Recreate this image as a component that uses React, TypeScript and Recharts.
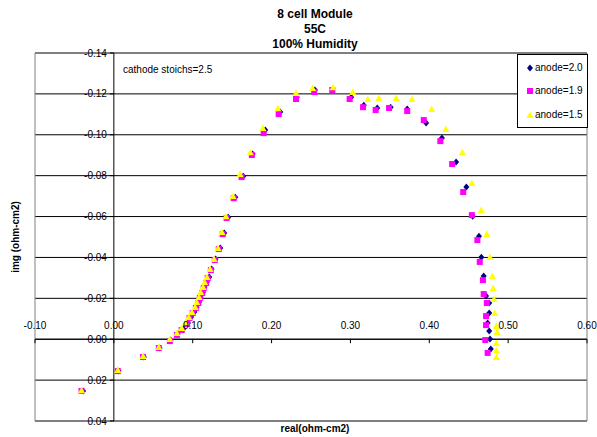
import React from "react";
import { ScatterChart, Scatter, XAxis, YAxis, CartesianGrid, ReferenceLine, ReferenceArea } from "recharts";

// anode stoich 2.0
const A20_REAL = [-0.039, 0.006, 0.038, 0.058, 0.072, 0.081, 0.088, 0.094, 0.098, 0.102, 0.105, 0.108, 0.11, 0.113, 0.115, 0.118, 0.121, 0.124, 0.129, 0.135, 0.14, 0.145, 0.154, 0.164, 0.176, 0.192, 0.211, 0.232, 0.255, 0.278, 0.301, 0.317, 0.334, 0.351, 0.372, 0.396, 0.416, 0.434, 0.447, 0.455, 0.463, 0.466, 0.469, 0.472, 0.476, 0.476, 0.474, 0.476, 0.477, 0.478];
const A20_IMG = [0.0253, 0.0156, 0.0087, 0.0043, 0.0004, -0.0025, -0.005, -0.0079, -0.0109, -0.0133, -0.0158, -0.0182, -0.0206, -0.0231, -0.0255, -0.028, -0.0304, -0.0343, -0.0392, -0.0446, -0.0519, -0.0597, -0.0695, -0.0797, -0.0906, -0.1023, -0.1111, -0.1184, -0.1219, -0.1223, -0.1184, -0.1145, -0.1131, -0.1135, -0.1126, -0.1057, -0.0984, -0.0867, -0.0744, -0.0602, -0.0504, -0.0401, -0.0309, -0.0211, -0.0177, -0.0128, -0.0079, -0.004, -0.0001, 0.0048];

// anode stoich 1.9
const A19_REAL = [-0.041, 0.005, 0.037, 0.057, 0.071, 0.08, 0.086, 0.093, 0.096, 0.1, 0.104, 0.107, 0.109, 0.112, 0.114, 0.117, 0.119, 0.123, 0.128, 0.133, 0.138, 0.143, 0.152, 0.162, 0.175, 0.19, 0.209, 0.231, 0.254, 0.277, 0.299, 0.316, 0.332, 0.349, 0.372, 0.393, 0.414, 0.429, 0.443, 0.454, 0.461, 0.464, 0.468, 0.469, 0.473, 0.472, 0.472, 0.471, 0.474];
const A19_IMG = [0.0253, 0.0156, 0.0087, 0.0043, 0.0009, -0.0021, -0.0045, -0.0074, -0.0104, -0.0128, -0.0153, -0.0177, -0.0201, -0.0226, -0.025, -0.0275, -0.0299, -0.0338, -0.0387, -0.0441, -0.0514, -0.0593, -0.069, -0.0793, -0.0901, -0.1008, -0.1101, -0.1175, -0.1209, -0.1219, -0.1175, -0.1135, -0.1121, -0.1131, -0.1116, -0.1072, -0.0969, -0.0857, -0.072, -0.0607, -0.0485, -0.0378, -0.0289, -0.0221, -0.0177, -0.0113, -0.0069, 0.0004, 0.0067];

// anode stoich 1.5
const A15_REAL = [-0.041, 0.005, 0.037, 0.057, 0.071, 0.08, 0.086, 0.091, 0.095, 0.099, 0.103, 0.105, 0.108, 0.11, 0.113, 0.115, 0.118, 0.122, 0.127, 0.132, 0.137, 0.142, 0.151, 0.16, 0.173, 0.189, 0.208, 0.231, 0.252, 0.278, 0.303, 0.322, 0.336, 0.358, 0.378, 0.403, 0.421, 0.442, 0.454, 0.466, 0.473, 0.477, 0.48, 0.481, 0.482, 0.483, 0.485, 0.486, 0.485, 0.485, 0.485];
const A15_IMG = [0.0249, 0.0151, 0.0082, 0.0038, -0.0001, -0.003, -0.0055, -0.0084, -0.0109, -0.0133, -0.0158, -0.0182, -0.0206, -0.0231, -0.0255, -0.028, -0.0304, -0.0343, -0.0392, -0.0446, -0.0524, -0.0602, -0.07, -0.0808, -0.0915, -0.1033, -0.113, -0.1204, -0.1229, -0.1233, -0.1209, -0.1175, -0.118, -0.118, -0.1175, -0.1126, -0.1028, -0.0915, -0.0764, -0.0632, -0.0515, -0.0402, -0.0309, -0.025, -0.0197, -0.0128, -0.0065, -0.0035, 0.0019, 0.0053, 0.0087];

const X_TICKS = [-0.1, 0, 0.1, 0.2, 0.3, 0.4, 0.5, 0.6];
const Y_TICKS = [-0.14, -0.12, -0.1, -0.08, -0.06, -0.04, -0.02, 0, 0.02, 0.04];

const W = 597;
const H = 437;
// plot area: left 35, top 53, right 587, bottom 421 (YAxis 20 wide, XAxis 16 high)
const M = { top: 53, right: 10, bottom: 0, left: 15 };
const Y_AXIS_W = 20;
const X_AXIS_H = 16;
const FONT = "Arial, 'Liberation Sans', sans-serif";

const zip = (xs: number[], ys: number[]) => xs.map((x, i) => ({ x, y: ys[i] }));

// where the axes cross inside the plot (x=0 and y=0)
const plotLeft = M.left + Y_AXIS_W;
const plotW = W - plotLeft - M.right;
const plotH = H - M.top - M.bottom - X_AXIS_H;
const xMin = X_TICKS[0], xMax = X_TICKS[X_TICKS.length - 1];
const yMin = Y_TICKS[0], yMax = Y_TICKS[Y_TICKS.length - 1];
const Y_AXIS_X = plotLeft + ((0 - xMin) / (xMax - xMin)) * plotW;
const X_AXIS_Y = M.top + ((0 - yMin) / (yMax - yMin)) * plotH;

const XTick = ({ x, payload }: any) => (
  <g>
    <line x1={x} x2={x} y1={X_AXIS_Y} y2={X_AXIS_Y + 4} stroke="#000" />
    <text x={x} y={X_AXIS_Y - 14} dy="0.35em" textAnchor="middle" fontSize={10} fontFamily={FONT} fill="#000">
      {Number(payload.value).toFixed(2)}
    </text>
  </g>
);

const YTick = ({ y, payload }: any) => (
  <g>
    <line x1={Y_AXIS_X - 4} x2={Y_AXIS_X} y1={y} y2={y} stroke="#000" />
    <text x={Y_AXIS_X - 7} y={y} dy="0.35em" textAnchor="end" fontSize={10} fontFamily={FONT} fill="#000">
      {Number(payload.value).toFixed(2)}
    </text>
  </g>
);

const Diamond = ({ cx, cy }: any) => (
  <polygon points={`${cx},${cy - 3.5} ${cx + 3},${cy} ${cx},${cy + 3.5} ${cx - 3},${cy}`} fill="#000080" />
);
const Square = ({ cx, cy }: any) => <rect x={cx - 3} y={cy - 3} width={6} height={6} fill="#FF00FF" />;
const Triangle = ({ cx, cy }: any) => (
  <polygon points={`${cx},${cy - 3.5} ${cx + 3.5},${cy + 3} ${cx - 3.5},${cy + 3}`} fill="#FFFF00" />
);

const LEGEND = [
  { label: "anode=2.0", Shape: Diamond, top: 13 },
  { label: "anode=1.9", Shape: Square, top: 36 },
  { label: "anode=1.5", Shape: Triangle, top: 60 },
];

export default function App() {
  return (
    <div style={{ position: "absolute", left: 0, top: 0, width: W, height: H, background: "#fff", fontFamily: FONT }}>
      <ScatterChart width={W} height={H} margin={M}>
        <CartesianGrid vertical={false} stroke="#000" horizontalValues={Y_TICKS} />
        <ReferenceArea x1={xMin} x2={xMax} y1={yMin} y2={yMax} fill="none" stroke="#808080" strokeWidth={1} />
        <XAxis
          type="number"
          dataKey="x"
          domain={[xMin, xMax]}
          ticks={X_TICKS}
          allowDataOverflow
          height={X_AXIS_H}
          axisLine={false}
          tickLine={false}
          tick={(p: any) => <XTick {...p} />}
          interval={0}
        />
        <YAxis
          type="number"
          dataKey="y"
          domain={[yMin, yMax]}
          ticks={Y_TICKS}
          reversed
          allowDataOverflow
          width={Y_AXIS_W}
          axisLine={false}
          tickLine={false}
          tick={(p: any) => <YTick {...p} />}
          interval={0}
        />
        <ReferenceLine y={0} stroke="#000" />
        <ReferenceLine x={0} stroke="#000" />
        <Scatter name="anode=2.0" data={zip(A20_REAL, A20_IMG)} shape={<Diamond />} isAnimationActive={false} />
        <Scatter name="anode=1.9" data={zip(A19_REAL, A19_IMG)} shape={<Square />} isAnimationActive={false} />
        <Scatter name="anode=1.5" data={zip(A15_REAL, A15_IMG)} shape={<Triangle />} isAnimationActive={false} />
      </ScatterChart>

      <div style={{ position: "absolute", left: 215, top: 7, width: 200, textAlign: "center", fontSize: 12, fontWeight: "bold", lineHeight: "15px" }}>
        <div>8 cell Module</div>
        <div>55C</div>
        <div>100% Humidity</div>
      </div>

      <div style={{ position: "absolute", left: 123, top: 64, fontSize: 10, lineHeight: "12px", whiteSpace: "nowrap" }}>
        cathode stoichs=2.5
      </div>

      <div style={{ position: "absolute", left: 15, top: 237, transform: "translate(-50%, -50%) rotate(-90deg)", fontSize: 10, fontWeight: "bold", whiteSpace: "nowrap" }}>
        img (ohm-cm2)
      </div>

      <div style={{ position: "absolute", left: 315, top: 428, transform: "translate(-50%, -50%)", fontSize: 10, fontWeight: "bold", whiteSpace: "nowrap" }}>
        real(ohm-cm2)
      </div>

      <div style={{ position: "absolute", left: 517, top: 54, width: 69, height: 72, background: "#fff", border: "1px solid #000" }}>
        {LEGEND.map(({ label, Shape, top }) => (
          <div key={label} style={{ position: "absolute", left: 0, top: top - 6, height: 12, whiteSpace: "nowrap" }}>
            <svg width={16} height={12} style={{ position: "absolute", left: 4, top: 0 }}>
              <Shape cx={8} cy={6} />
            </svg>
            <span style={{ position: "absolute", left: 17, top: 0, fontSize: 10, lineHeight: "12px" }}>{label}</span>
          </div>
        ))}
      </div>
    </div>
  );
}
